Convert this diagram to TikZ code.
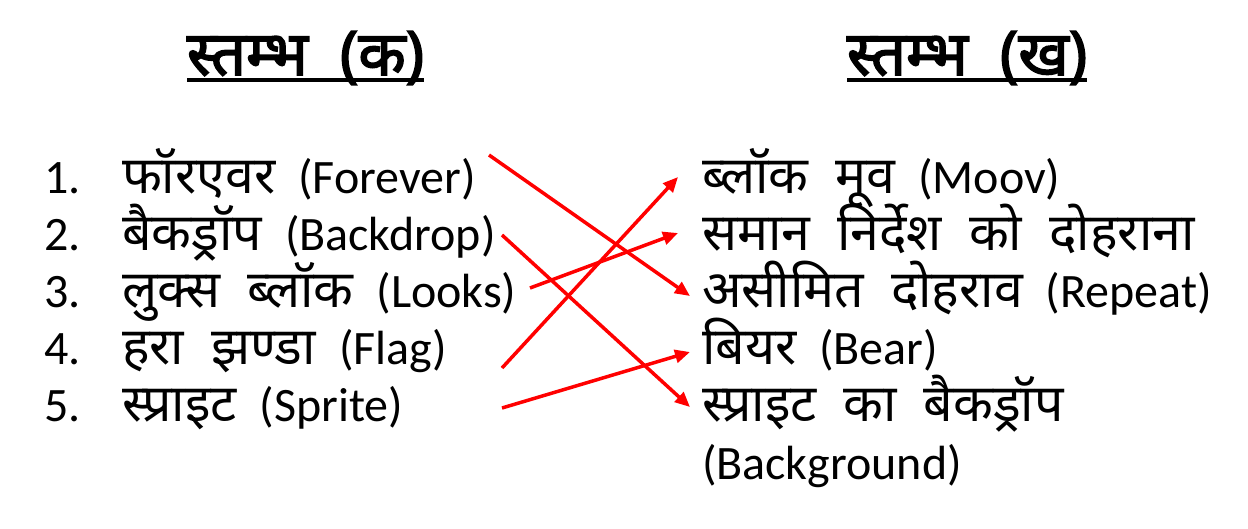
\documentclass[tikz,border=0pt]{standalone}
\usepackage{fontspec}
\setmainfont{Carlito}
\newfontfamily\dev[Script=Devanagari, Scale=1.08, WordSpace=2.0]{Noto Sans}
\newfontfamily\devh[Script=Devanagari, Scale=1.1, FakeBold=2.5, WordSpace=2.0]{Noto Sans}
\usetikzlibrary{arrows.meta,calc}
\newcommand{\gap}{\hspace{23pt}}
\tikzset{
  item/.style={inner sep=0pt, outer sep=0pt, anchor=base west, font=\fontsize{48}{52}\selectfont},
  head/.style={inner sep=0pt, outer sep=0pt, anchor=base west, font=\fontsize{56}{60}\selectfont\devh},
  uline/.style={line width=3.3pt, black},
  match/.style={draw=red, line width=3.5pt, -{Triangle[length=15pt,width=13pt]}},
}
\begin{document}
\begin{tikzpicture}[x=1pt,y=-1pt]
\useasboundingbox (0,0) rectangle (1248,528);
% headers
\node[head] (hk) at (187,75) {स्तम्भ (क)};
\node[head] (hkh) at (847,75) {स्तम्भ (ख)};
\draw[uline] ($(hk.base west)+(0,5)$) -- ($(hk.base east)+(0,5)$);
\draw[uline] ($(hkh.base west)+(0,5)$) -- ($(hkh.base east)+(0,5)$);
% left column
\node[item] (n1) at (44,193) {1.};
\node[item] (n2) at (44,250) {2.};
\node[item] (n3) at (44,307) {3.};
\node[item] (n4) at (44,364) {4.};
\node[item] (n5) at (44,421) {5.};
\node[item] (l1) at (122,193) {{\dev फॉरएवर}\gap(Forever)};
\node[item] (l2) at (122,250) {{\dev बैकड्रॉप}\gap(Backdrop)};
\node[item] (l3) at (122,307) {{\dev लुक्स ब्लॉक}\gap(Looks)};
\node[item] (l4) at (122,364) {{\dev हरा झण्डा}\gap(Flag)};
\node[item] (l5) at (122,421) {{\dev स्प्राइट}\gap(Sprite)};
% right column
\node[item] (r1) at (702,193) {{\dev ब्लॉक मूव}\gap(Moov)};
\node[item] (r2) at (702,250) {\dev समान निर्देश को दोहराना};
\node[item] (r3) at (702,307) {{\dev असीमित दोहराव}\gap(Repeat)};
\node[item] (r4) at (702,364) {{\dev बियर}\gap(Bear)};
\node[item] (r5) at (702,421) {\dev स्प्राइट का बैकड्रॉप};
\node[item] (r6) at (702,479) {(Background)};
% connector ends
\coordinate (a1) at (489,155);
\coordinate (a2) at (502,235);
\coordinate (a3) at (530,288);
\coordinate (a4) at (502,368);
\coordinate (a5) at (502,408);
\coordinate (b1) at (678,177);
\coordinate (b2) at (678,233);
\coordinate (b3) at (690,296);
\coordinate (b4) at (690,352);
\coordinate (b5) at (690,407);
\draw[match] (a1) -- (b3);
\draw[match] (a2) -- (b5);
\draw[match] (a3) -- (b2);
\draw[match] (a4) -- (b1);
\draw[match] (a5) -- (b4);
\end{tikzpicture}
\end{document}
